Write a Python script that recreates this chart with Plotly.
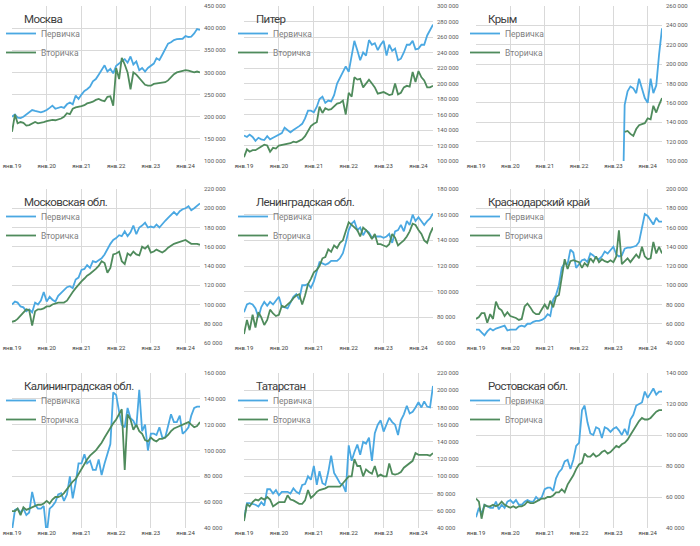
import pandas as pd
import plotly.graph_objects as go

# Monthly dates Jan 2019 .. Jun 2024
months = pd.date_range("2019-01-01", "2024-06-01", freq="MS")
tick_vals = pd.date_range("2019-01-01", "2024-01-01", freq="YS")
tick_labels = ["янв.19", "янв.20", "янв.21", "янв.22", "янв.23", "янв.24"]

titles = ["Москва", "Питер", "Крым",
          "Московская обл.", "Ленинградская обл.", "Краснодарский край",
          "Калининградская обл.", "Татарстан", "Ростовская обл."]
series_names = ["Первичка", "Вторичка"]

# values in thousands of rubles per sq.m
moscow_primary = [200, 205, 198, 197, 200, 205, 210, 215, 213, 211, 210, 212,
                  215, 220, 225, 218, 220, 222, 220, 228, 232, 228, 248, 240,
                  250, 258, 262, 268, 280, 285, 295, 305, 316, 302, 308, 298,
                  315, 320, 326, 330, 322, 336, 318, 325, 305, 310, 302, 310,
                  315, 320, 332, 328, 340, 352, 365, 368, 373, 375, 376, 376,
                  382, 380, 381, 388, 398, 396]
moscow_secondary = [166, 205, 185, 188, 186, 180, 181, 184, 188, 185, 186, 188,
                    190, 192, 193, 192, 194, 196, 200, 208, 206, 218, 221, 222,
                    224, 226, 230, 232, 234, 238, 240, 237, 235, 245, 246, 225,
                    310, 285, 333, 318, 300, 262, 300, 295, 288, 280, 272, 270,
                    270, 274, 275, 275, 276, 278, 282, 290, 296, 300, 302, 304,
                    305, 304, 302, 300, 302, 300]

piter_primary = [133, 131, 134, 131, 126, 130, 128, 127, 132, 128, 130, 132,
                 134, 136, 143, 140, 137, 140, 142, 145, 148, 155, 165, 165,
                 163, 170, 180, 183, 175, 178, 177, 185, 200, 207, 215, 222,
                 215, 235, 255, 243, 230, 240, 236, 256, 250, 252, 243, 250,
                 255, 236, 250, 242, 245, 230, 232, 240, 250, 250, 255, 244,
                 245, 250, 250, 262, 270, 276]
piter_secondary = [105, 115, 112, 114, 114, 116, 118, 121, 120, 112, 117, 116,
                   120, 121, 121, 122, 123, 125, 124, 126, 128, 132, 138, 145,
                   148, 150, 170, 162, 168, 166, 167, 170, 174, 175, 178, 160,
                   188, 183, 208, 205, 206, 195, 200, 205, 200, 195, 187, 188,
                   189, 187, 185, 186, 200, 186, 188, 195, 197, 196, 215, 202,
                   216, 208, 204, 195, 195, 197]

crimea_primary = [None] * 51 + [0, 158, 172, 177, 175, 170, 185, 175, 165, 160,
                                185, 170, 178, 210, 237]
crimea_secondary = [None] * 52 + [130, 131, 128, 126, 133, 137, 138, 139, 144,
                                  143, 157, 150, 158, 165]

mo_primary = [100, 103, 102, 98, 97, 93, 95, 92, 102, 100, 104, 113,
              103, 108, 105, 103, 109, 112, 115, 118, 119, 117, 126, 128,
              136, 137, 141, 138, 145, 144, 146, 148, 152, 158, 163, 167,
              169, 172, 171, 176, 171, 175, 182, 173, 180, 182, 185, 180,
              181, 180, 183, 180, 184, 187, 190, 193, 196, 193, 197, 199,
              200, 202, 198, 200, 202, 205]
mo_secondary = [82, 83, 85, 88, 92, 95, 94, 78, 93, 95, 95, 96,
                98, 98, 100, 101, 102, 102, 102, 104, 109, 113, 117, 121,
                124, 127, 130, 132, 134, 137, 140, 145, 143, 133, 138, 152,
                153, 155, 145, 142, 153, 151, 155, 152, 151, 160, 158, 161,
                154, 155, 157, 155, 154, 156, 159, 161, 163, 164, 165, 166,
                167, 165, 163, 163, 163, 162]

lo_primary = [84, 90, 91, 90, 87, 80, 88, 92, 89, 92, 90, 93,
              96, 88, 88, 87, 91, 96, 98, 94, 105, 105, 106, 103,
              108, 116, 123, 122, 121, 122, 124, 124, 124, 126, 130, 138,
              148, 153, 155, 148, 150, 144, 148, 146, 142, 143, 143, 143,
              142, 143, 145, 138, 147, 148, 152, 147, 155, 152, 160, 155,
              158, 155, 152, 155, 157, 161]
lo_secondary = [67, 78, 70, 82, 72, 84, 80, 74, 78, 86, 83, 81,
                82, 89, 88, 90, 92, 95, 97, 98, 90, 97, 106, 110,
                115, 117, 120, 126, 127, 133, 131, 136, 134, 138, 140, 147,
                154, 152, 150, 148, 143, 150, 148, 145, 141, 145, 137, 137,
                136, 135, 137, 145, 142, 136, 138, 140, 143, 147, 153, 152,
                148, 145, 140, 138, 145, 150]

krd_primary = [54, 54, 51, 48, 52, 55, 53, 55, 56, 57, 58, 53,
               54, 54, 54, 57, 58, 57, 60, 60, 62, 63, 63, 64,
               66, 70, 68, 85, 90, 100, 118, 123, 122, 137, 134, 118,
               122, 126, 127, 124, 133, 131, 128, 127, 130, 135, 133, 136,
               140, 132, 130, 131, 138, 139, 139, 140, 141, 145, 160, 174,
               172, 168, 163, 170, 166, 166]
krd_secondary = [65, 67, 71, 71, 61, 70, 65, 83, 76, 74, 68, 72,
                 68, 67, 66, 64, 65, 78, 81, 77, 72, 70, 70, 75,
                 80, 75, 84, 77, 88, 90, 108, 127, 117, 125, 126, 125,
                 124, 118, 123, 120, 128, 124, 130, 124, 127, 125, 124, 126,
                 124, 130, 157, 122, 125, 128, 124, 128, 132, 128, 140, 130,
                 127, 128, 145, 133, 140, 133]

kgd_primary = [38, 54, 55, 52, 55, 50, 52, 68, 58, 55, 55, 57,
               35, 55, 57, 60, 66, 67, 61, 66, 80, 63, 75, 90,
               90, 97, 90, 92, 85, 85, 93, 81, 90, 98, 105, 145,
               143, 130, 120, 118, 133, 125, 123, 118, 147, 115, 120, 100,
               113, 113, 112, 118, 110, 110, 120, 128, 122, 122, 127, 113,
               115, 118, 127, 133, 134, 134]
kgd_secondary = [53, 53, 55, 50, 56, 54, 55, 56, 57, 58, 58, 59,
                 61, 59, 62, 64, 64, 65, 67, 70, 73, 76, 78, 82,
                 86, 90, 93, 96, 98, 100, 103, 106, 110, 114, 118, 121,
                 124, 128, 132, 85, 128, 124, 116, 120, 115, 113, 108, 107,
                 110, 108, 107, 109, 109, 110, 112, 115, 117, 118, 119, 120,
                 121, 122, 120, 118, 119, 122]

tat_primary = [50, 69, 69, 68, 67, 65, 70, 66, 85, 85, 80, 84,
               78, 82, 82, 82, 80, 86, 82, 80, 90, 91, 100, 96,
               112, 90, 106, 92, 90, 105, 124, 104, 98, 92, 90, 82,
               136, 118, 128, 137, 125, 140, 138, 145, 118, 150, 160, 165,
               152, 160, 168, 163, 160, 148, 165, 172, 182, 173, 175, 180,
               186, 180, 187, 181, 180, 205]
tat_secondary = [48, 68, 65, 70, 73, 72, 75, 73, 76, 73, 65, 68,
                 70, 70, 70, 78, 73, 72, 70, 68, 68, 72, 84, 75,
                 78, 82, 84, 85, 86, 88, 88, 88, 88, 88, 92, 96,
                 100, 100, 120, 112, 112, 100, 108, 105, 103, 112, 100, 102,
                 100, 100, 115, 103, 102, 103, 105, 110, 113, 115, 118, 127,
                 125, 125, 125, 125, 124, 127]

rostov_primary = [47, 53, 49, 55, 54, 53, 53, 57, 52, 55, 53, 57,
                  58, 56, 58, 55, 55, 57, 58, 57, 57, 60, 58, 60,
                  65, 66, 66, 64, 72, 76, 78, 83, 84, 78, 84, 93,
                  95, 116, 119, 108, 101, 100, 105, 104, 98, 105, 104, 102,
                  104, 105, 103, 100, 104, 100, 110, 113, 119, 120, 121, 128,
                  124, 127, 130, 126, 128, 128]
rostov_secondary = [59, 57, 46, 55, 54, 54, 55, 54, 55, 57, 55, 54,
                    53, 54, 53, 54, 54, 55, 57, 56, 56, 57, 58, 59,
                    59, 60, 60, 61, 63, 63, 65, 63, 68, 71, 74, 78,
                    81, 82, 88, 86, 86, 88, 86, 87, 89, 90, 88, 89,
                    91, 93, 92, 94, 95, 97, 100, 103, 106, 109, 111, 110,
                    110, 111, 113, 115, 116, 116]

y_ranges = [(100, 450), (100, 300), (100, 260),
            (60, 220), (60, 180), (40, 200),
            (40, 160), (40, 220), (40, 140)]
y_steps = [50, 20, 20, 20, 20, 20, 20, 20, 20]

primary = [moscow_primary, piter_primary, crimea_primary, mo_primary, lo_primary,
           krd_primary, kgd_primary, tat_primary, rostov_primary]
secondary = [moscow_secondary, piter_secondary, crimea_secondary, mo_secondary,
             lo_secondary, krd_secondary, kgd_secondary, tat_secondary,
             rostov_secondary]

BLUE = "#4aa8e2"
GREEN = "#4f8b5c"
W, H = 700, 546
col_px = [(12, 200), (244, 433), (476, 662)]
row_px = [(6, 161), (189, 343), (373, 528)]
NARROW = "Roboto, Liberation Sans, Arial, sans-serif"

def scale(vals):
    return [None if v is None else v * 1000 for v in vals]

fig = go.Figure()
layout = dict(width=W, height=H, margin=dict(l=0, r=0, t=0, b=0, autoexpand=False),
              paper_bgcolor="white", plot_bgcolor="white",
              separators=", ", annotations=[], showlegend=True,
              font=dict(family=NARROW, color="#595959"))

for k in range(9):
    r, c = divmod(k, 3)
    sfx = "" if k == 0 else str(k + 1)
    xa, ya = "x" + sfx, "y" + sfx
    lg = "legend" + sfx
    x0, x1 = col_px[c]
    y0, y1 = row_px[r]
    for vals, name, color in ((primary[k], series_names[0], BLUE),
                              (secondary[k], series_names[1], GREEN)):
        fig.add_trace(go.Scatter(x=months, y=scale(vals), name=name, mode="lines",
                                 line=dict(color=color, width=1.8),
                                 xaxis=xa, yaxis=ya, legend=lg,
                                 connectgaps=False))
    lo, hi = y_ranges[k]
    layout["xaxis" + sfx] = dict(
        domain=[x0 / W, x1 / W], anchor=ya, type="date", automargin=False,
        range=["2019-01-01", "2024-06-01"],
        tickmode="array", tickvals=list(tick_vals), ticktext=tick_labels,
        showgrid=True, gridcolor="#d9d9d9", gridwidth=1, zeroline=False,
        showline=False, ticks="",
        tickfont=dict(size=6, color="#404040", family=NARROW),
        tickangle=0, fixedrange=True)
    layout["yaxis" + sfx] = dict(
        domain=[1 - y1 / H, 1 - y0 / H], anchor=xa, side="right", automargin=False,
        range=[lo * 1000, hi * 1000], dtick=y_steps[k] * 1000, tick0=0,
        tickformat=",d", showgrid=True, gridcolor="#d9d9d9", gridwidth=1,
        zeroline=False, showline=False, ticks="", ticklabelstandoff=3,
        tickfont=dict(size=6, color="#595959", family=NARROW),
        fixedrange=True)
    layout[lg] = dict(x=(x0 - 11) / W, y=1 - (y0 + 13) / H, xanchor="left",
                      yanchor="top", bgcolor="rgba(0,0,0,0)", borderwidth=0,
                      font=dict(size=8.5, color="#7f7f7f", family=NARROW),
                      tracegroupgap=0, itemwidth=30)
    layout["annotations"].append(dict(
        text='<span style="letter-spacing:-0.6px">' + titles[k] + '</span>',
        xref="paper", yref="paper",
        x=(x0 + 10) / W, y=1 - (y0 + 13) / H, xanchor="left", yanchor="middle",
        showarrow=False, font=dict(size=11.5, color="#404040", family=NARROW)))

fig.update_layout(**layout)
fig.write_html("out.html", config={"displayModeBar": False},
               post_script="document.body.style.margin='0';"
                           "document.body.style.overflow='hidden';")
